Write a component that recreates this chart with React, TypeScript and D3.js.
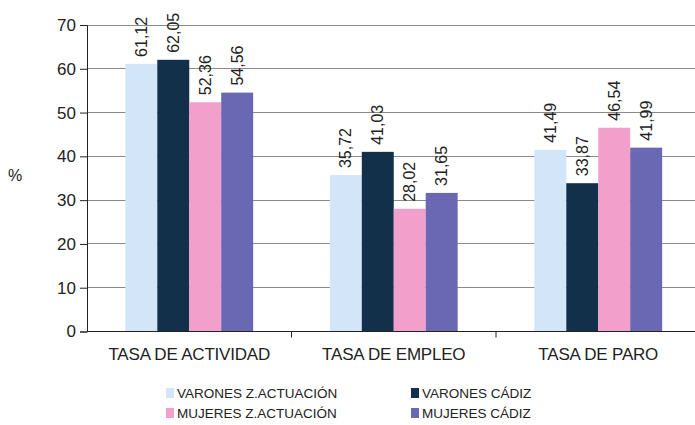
import { useEffect, useRef } from 'react';
import * as d3 from 'd3';

const categories = ['TASA DE ACTIVIDAD', 'TASA DE EMPLEO', 'TASA DE PARO'];
const seriesNames = ['VARONES Z.ACTUACIÓN', 'VARONES CÁDIZ', 'MUJERES Z.ACTUACIÓN', 'MUJERES CÁDIZ'];
const varonesZona = [61.12, 35.72, 41.49];
const varonesCadiz = [62.05, 41.03, 33.87];
const mujeresZona = [52.36, 28.02, 46.54];
const mujeresCadiz = [54.56, 31.65, 41.99];
const yTicks = [0, 10, 20, 30, 40, 50, 60, 70];
const colors = ['#d3e5f8', '#13304a', '#f2a0cb', '#6a67b3'];

const App = () => {
  const svgRef = useRef<SVGSVGElement | null>(null);

  useEffect(() => {
    const width = 695;
    const height = 425;
    const left = 87;
    const top = 25;
    const bottom = 331.5;
    const bandW = 204.5;
    const font = 'Arial, "Liberation Sans", sans-serif';

    const svg = d3.select(svgRef.current)
      .attr('width', width)
      .attr('height', height);
    svg.selectAll('*').remove();

    const values = [varonesZona, varonesCadiz, mujeresZona, mujeresCadiz];

    const x = d3.scaleBand()
      .domain(categories)
      .range([left, left + bandW * 3])
      .paddingInner(0)
      .paddingOuter(0);

    const inner = d3.scaleBand()
      .domain(seriesNames)
      .range([0, x.bandwidth()])
      .paddingOuter(1.2)
      .paddingInner(0);

    const y = d3.scaleLinear()
      .domain([0, 70])
      .range([bottom, top]);

    // gridlines
    svg.append('g')
      .selectAll('line')
      .data(yTicks.filter(d => d > 0))
      .enter()
      .append('line')
      .attr('x1', left)
      .attr('x2', width)
      .attr('y1', d => y(d))
      .attr('y2', d => y(d))
      .attr('stroke', '#8a8a8a')
      .attr('stroke-width', 1)
      .style('shape-rendering', 'crispEdges');

    // bars
    seriesNames.forEach((name, si) => {
      const g = svg.append('g');
      g.selectAll('rect')
        .data(categories)
        .enter()
        .append('rect')
        .attr('x', c => (x(c) as number) + (inner(name) as number))
        .attr('y', (c, i) => y(values[si][i]))
        .attr('width', inner.bandwidth())
        .attr('height', (c, i) => bottom - y(values[si][i]))
        .attr('fill', colors[si]);

      g.selectAll('text')
        .data(categories)
        .enter()
        .append('text')
        .attr('transform', (c, i) => {
          const cx = (x(c) as number) + (inner(name) as number) + inner.bandwidth() / 2;
          const cy = y(values[si][i]) - 7;
          return `translate(${cx + 5.5},${cy}) rotate(-90)`;
        })
        .attr('font-family', font)
        .attr('font-size', 16)
        .attr('fill', '#222')
        .text((c, i) => values[si][i].toFixed(2).replace('.', ','));
    });

    // y axis
    const yAxis = svg.append('g')
      .attr('transform', `translate(${left},0)`)
      .call(d3.axisLeft(y).tickValues(yTicks).tickSize(7).tickPadding(4));
    yAxis.select('.domain').attr('stroke', '#222');
    yAxis.selectAll('.tick line').attr('stroke', '#222');
    yAxis.selectAll('text')
      .attr('font-family', font)
      .attr('font-size', 17)
      .attr('fill', '#222');

    // x axis
    svg.append('line')
      .attr('x1', left)
      .attr('x2', width)
      .attr('y1', bottom)
      .attr('y2', bottom)
      .attr('stroke', '#222');
    svg.append('g')
      .selectAll('line')
      .data(categories.slice(1))
      .enter()
      .append('line')
      .attr('x1', c => x(c) as number)
      .attr('x2', c => x(c) as number)
      .attr('y1', bottom)
      .attr('y2', bottom + 6)
      .attr('stroke', '#222');

    svg.append('g')
      .selectAll('text')
      .data(categories)
      .enter()
      .append('text')
      .attr('x', c => (x(c) as number) + x.bandwidth() / 2)
      .attr('y', 360)
      .attr('text-anchor', 'middle')
      .attr('font-family', font)
      .attr('font-size', 17)
      .attr('letter-spacing', -0.2)
      .attr('fill', '#222')
      .text(c => c);

    svg.append('text')
      .attr('x', 15)
      .attr('y', 181)
      .attr('text-anchor', 'middle')
      .attr('font-family', font)
      .attr('font-size', 16)
      .attr('fill', '#222')
      .text('%');

    // legend
    const legendPos = [
      { x: 166, y: 393 },
      { x: 411, y: 393 },
      { x: 166, y: 413 },
      { x: 411, y: 413 },
    ];
    const legend = svg.append('g');
    seriesNames.forEach((name, i) => {
      const p = legendPos[i];
      legend.append('rect')
        .attr('x', p.x)
        .attr('y', p.y - 5)
        .attr('width', 8)
        .attr('height', 10)
        .attr('fill', colors[i]);
      legend.append('text')
        .attr('x', p.x + 11)
        .attr('y', p.y + 5)
        .attr('font-family', font)
        .attr('font-size', 13.5)
        .attr('fill', '#222')
        .text(name);
    });
  }, []);

  return (
    <svg ref={svgRef} style={{ position: 'absolute', left: 0, top: 0, background: '#fff' }}></svg>
  );
};

export default App;
